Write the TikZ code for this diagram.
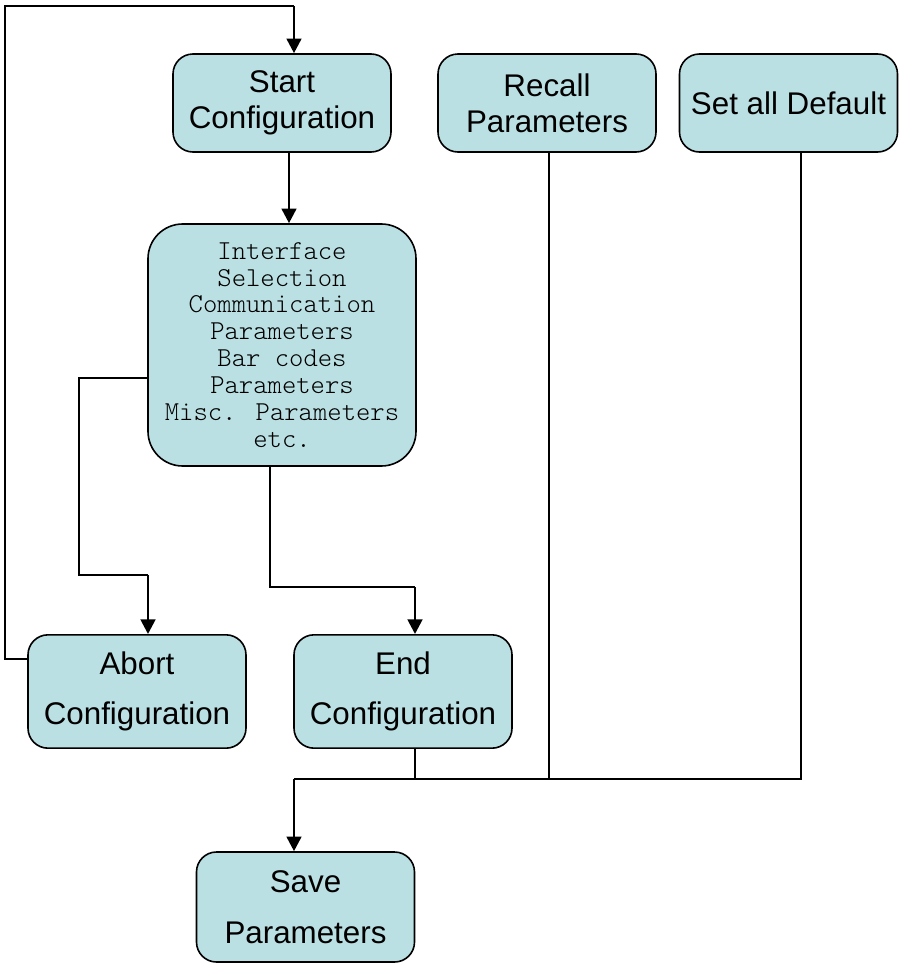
\documentclass[tikz,border=0pt]{standalone}
\usepackage{fontspec}
\setmainfont{Liberation Sans}
\newfontfamily\codefont{Latin Modern Mono Light}
\usetikzlibrary{arrows.meta}
\definecolor{boxfill}{RGB}{187,224,227}

\begin{document}
\begin{tikzpicture}[x=0.75pt,y=-0.75pt,
        stage/.style={draw=black,line width=1.2pt,fill=boxfill,rounded corners=15pt,
            minimum width=163.5pt,minimum height=73.5pt,align=center,inner sep=2pt,
            font=\fontsize{23.5}{27}\selectfont},
        tall/.style={stage,minimum height=85pt,font=\fontsize{23.5}{38}\selectfont},
        link/.style={line width=1.3pt},
        flow/.style={line width=2pt,-{Triangle[length=11pt,width=11pt]}}
    ]
    \useasboundingbox (0,0) rectangle (902,964);
    % boxes
    \node[stage] (start) at (282,103) {Start\\Configuration};
    \node[stage] (recall) at (547,103) {Recall\\Parameters};
    \node[stage] (default) at (788.5,103) {\raisebox{-4pt}{Set all Default}};
    \node[stage,minimum width=201pt,minimum height=181.5pt,rounded corners=26pt,
        font=\codefont\fontsize{20.5}{20.2}\selectfont] (setup) at (282,345)
        {Interface\\Selection\\Communication\\Parameters\\Bar codes\\Parameters\\Misc. Parameters\\etc.};
    \node[tall] (abort) at (137,691.5) {Abort\\Configuration};
    \node[tall] (endcfg) at (403,691.5) {End\\Configuration};
    \node[tall,minimum height=82.5pt] (save) at (305.5,907) {Save\\Parameters};
    % junctions
    \coordinate (loop) at (5,6);
    \coordinate (left) at (148,575);
    \coordinate (right) at (415,587);
    \coordinate (join) at (294,779);
    % connectors
    \draw[link] (abort.west |- 0,659) -| (loop) -- (294,6);
    \draw[flow] (294,6) -- (294,0 |- start.north);
    \draw[flow] (289,0 |- start.south) -- (289,0 |- setup.north);
    \draw[link] (setup.west |- 0,378) -| (79,575) -- (left);
    \draw[flow] (left) -- (left |- abort.north);
    \draw[link] (270,0 |- setup.south) |- (right);
    \draw[flow] (right) -- (right |- endcfg.north);
    \draw[link] (415,0 |- endcfg.south) -- (415,779);
    \draw[link] (549,0 |- recall.south) -- (549,779);
    \draw[link] (801,0 |- default.south) |- (join);
    \draw[flow] (join) -- (join |- save.north);
\end{tikzpicture}
\end{document}
